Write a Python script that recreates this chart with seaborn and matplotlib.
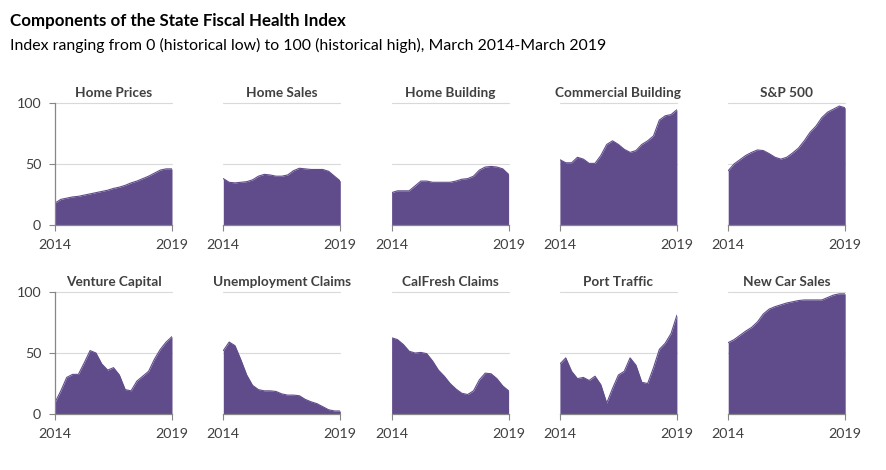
import numpy as np
import pandas as pd
import seaborn as sns
import matplotlib.pyplot as plt

# quarterly observations, March 2014 - March 2019
years = [2014 + q * 0.25 for q in range(21)]

home_prices = [18, 21, 22, 23, 23.5, 24.5, 25.5, 26.5, 27.5, 28.5, 30, 31, 32.5,
               34.5, 36, 38, 40, 42.5, 45, 46, 46]
home_sales = [38, 35, 34.5, 35, 35.5, 37, 40, 41.5, 41, 40, 40, 41, 44.5, 46.5,
              46, 45.5, 45.5, 45.5, 44, 40, 36]
home_building = [26.5, 28, 28, 28, 32, 36, 36, 35, 35, 35, 35, 36, 37.5, 38, 40,
                 45, 47.5, 48, 47.5, 46, 41.5]
commercial_building = [53.5, 51, 51, 55.5, 54, 50.5, 50.5, 57, 66, 69, 66, 62,
                       59.5, 61, 66, 69, 73, 86, 89.5, 90.5, 94.5]
sp500 = [44.5, 50, 53.5, 57, 59.5, 61.5, 61, 58.5, 55.5, 54, 55.5, 59, 63, 69, 76,
         81, 88, 92.5, 95, 97.5, 96]
venture_capital = [9.5, 19, 30, 32.5, 32.5, 42, 52, 50, 41, 36, 38, 32, 20, 19, 27,
                   31, 35, 45, 53, 59, 63.5]
unemployment_claims = [52, 59, 56, 44.5, 32, 23.5, 20, 19, 19, 18.5, 16.5, 15.5,
                       15.5, 15, 12, 10, 8.5, 6, 3.5, 2.5, 2.5]
calfresh_claims = [62.5, 61, 57, 51.5, 50, 50.5, 49.5, 43.5, 36, 31, 25, 20.5, 17,
                   16, 19, 28, 33.5, 33, 29, 23, 19]
port_traffic = [41, 46, 35, 29, 30, 27.5, 31, 24, 9, 21, 32, 35, 46, 40, 26, 25, 38,
                53, 58, 66, 81]
new_car_sales = [58.5, 61, 64.5, 68, 71, 75.5, 82, 86, 88, 89.5, 91, 92, 93, 93.5,
                 93.5, 93.5, 93.5, 95.5, 97.5, 98.5, 98.5]

titles = ["Home Prices", "Home Sales", "Home Building", "Commercial Building", "S&P 500",
          "Venture Capital", "Unemployment Claims", "CalFresh Claims", "Port Traffic",
          "New Car Sales"]
series = [home_prices, home_sales, home_building, commercial_building, sp500,
          venture_capital, unemployment_claims, calfresh_claims, port_traffic, new_car_sales]

y_ticks = [0, 50, 100]
x_ticks = [2014, 2019]

purple = "#604c8b"
text_col = "#404040"
axis_col = "#868686"

sns.set_theme(style="white")
plt.rcParams['font.family'] = ['Lato', 'DejaVu Sans']

fig = plt.figure(figsize=(8.87, 4.70), dpi=100)

fig.text(10 / 887, 1 - 26 / 470, "Components of the State Fiscal Health Index",
         fontsize=12.2, fontweight='bold', color='black')
fig.text(10 / 887, 1 - 50 / 470,
         "Index ranging from 0 (historical low) to 100 (historical high), March 2014-March 2019",
         fontsize=11.4, color='black')

for i, (name, vals) in enumerate(zip(titles, series)):
    row, col = divmod(i, 5)
    left = (55 + 168.3 * col) / 887
    bottom = 0.5213 if row == 0 else 0.1191
    ax = fig.add_axes([left, bottom, 117 / 887, 122 / 470])

    df = pd.DataFrame({"year": years, "value": vals})
    ax.fill_between(df["year"], 0, df["value"], color=purple, linewidth=0, zorder=3)
    sns.lineplot(data=df, x="year", y="value", ax=ax, color=purple, linewidth=0.8, zorder=3)

    ax.set_xlim(2014, 2019)
    ax.set_ylim(0, 100)
    for yv in (50, 100):
        ax.axhline(yv, color="#d9d9d9", linewidth=0.8, zorder=1, clip_on=False)

    ax.set_xticks(x_ticks)
    ax.set_xticklabels([str(t) for t in x_ticks], fontsize=10.3, color=text_col)
    ax.set_xlabel("")
    ax.set_ylabel("")
    ax.tick_params(axis='x', direction='out', length=4, width=0.8, color=axis_col, pad=6,
                   bottom=True)
    for sp in ("top", "right"):
        ax.spines[sp].set_visible(False)
    ax.spines["bottom"].set_color(axis_col)
    ax.spines["bottom"].set_linewidth(0.9)
    ax.spines["bottom"].set_zorder(4)

    if col == 0:
        ax.set_yticks(y_ticks)
        ax.set_yticklabels([str(t) for t in y_ticks], fontsize=10.3, color=text_col)
        ax.tick_params(axis='y', direction='out', length=4, width=0.8, color=axis_col,
                       pad=6, left=True)
        ax.spines["left"].set_color(axis_col)
        ax.spines["left"].set_linewidth(0.9)
        ax.spines["left"].set_zorder(4)
    else:
        ax.set_yticks([])
        ax.spines["left"].set_visible(False)

    ax.set_title(name, fontsize=9.8, fontweight='bold', color=text_col, pad=4)

fig.savefig("out.png", dpi=100)
